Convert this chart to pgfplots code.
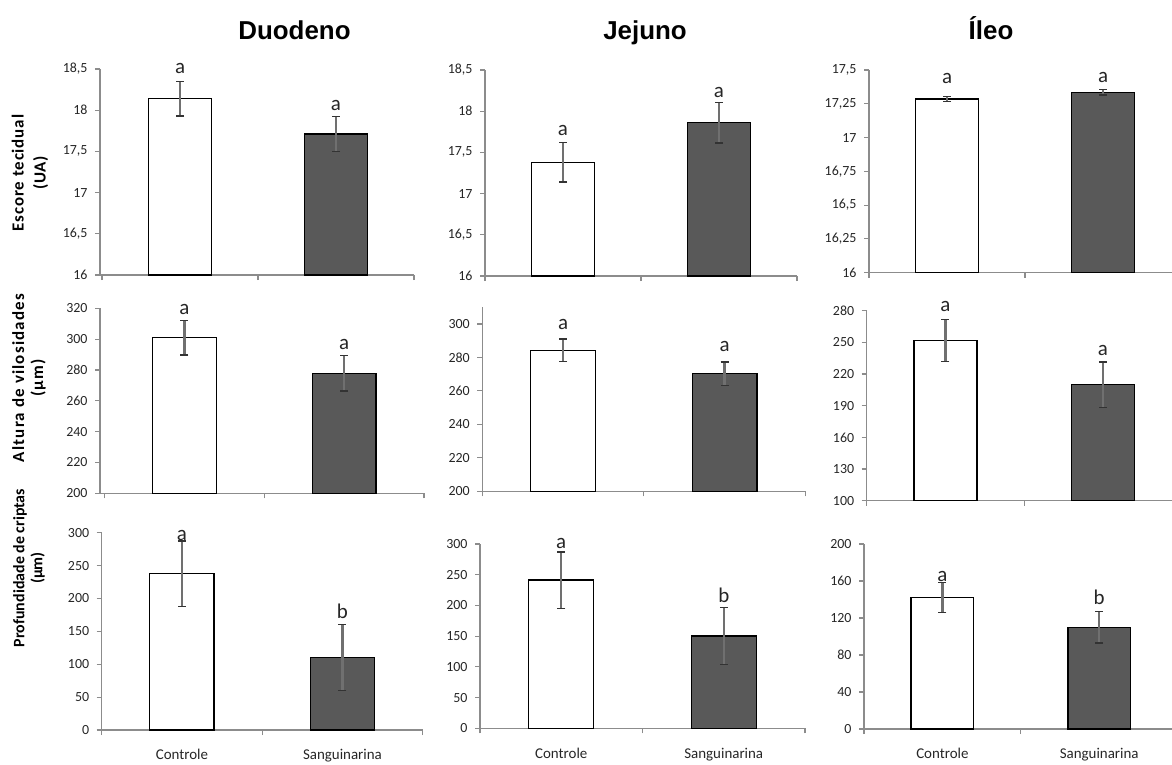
\documentclass[border=0pt]{standalone}
\usepackage{fontspec}
\setmainfont{Carlito}
\newfontfamily\arialfont{Liberation Sans}
\usepackage{pgfplots}
\pgfplotsset{compat=1.18}
\definecolor{axisgray}{HTML}{8C8C8C}
\definecolor{errgray}{HTML}{707070}
\definecolor{capgray}{HTML}{333333}
\definecolor{darkbar}{HTML}{595959}
\definecolor{txt}{HTML}{262626}
\tikzset{lab/.style={anchor=base, font=\fontsize{21}{24}\selectfont, text=txt, inner sep=0pt}}
\pgfplotsset{
  panel/.style={
    scale only axis, clip=false, anchor=south west,
    axis x line*=bottom, axis y line*=left,
    axis line style={draw=axisgray, line width=1.1pt, -},
    xtick={-0.5,0.5,1.5}, xticklabels={,,},
    tick align=outside, major tick length=5bp,
    tick style={draw=axisgray, line width=1.1pt},
    ybar, bar width=0.4, bar shift=0pt,
    yticklabel style={font=\fontsize{14}{16}\selectfont, text=txt, xshift=-4bp},
    /pgf/number format/use comma,
    /pgf/number format/1000 sep={},
    /pgf/number format/assume math mode=true,
  },
  cats/.style={
    extra x ticks={0,1}, extra x tick labels={Controle,Sanguinarina},
    extra x tick style={major tick length=0pt,
      xticklabel style={font=\fontsize{15}{17}\selectfont, text=txt, yshift=-16bp}},
  },
  ebar/.style={
    error bars/.cd, y dir=both, y explicit,
    error bar style={draw=errgray, line width=2.4pt},
    error mark=|,
    error mark options={draw=capgray, line width=1.4pt, mark size=4bp}},
  ctrl/.style={fill=white, draw=black, line width=1.3pt, ebar},
  sang/.style={fill=darkbar, draw=black, line width=1.3pt, ebar},
}
\begin{document}
\begin{tikzpicture}
\useasboundingbox (0,0) rectangle (1172bp,-765bp);
% titles
\node[font=\arialfont\bfseries\fontsize{26}{30}\selectfont, anchor=base] at (294.5bp,-39bp) {Duodeno};
\node[font=\arialfont\bfseries\fontsize{26}{30}\selectfont, anchor=base] at (645bp,-39bp) {Jejuno};
\node[font=\arialfont\bfseries\fontsize{26}{30}\selectfont, anchor=base] at (991bp,-39bp) {Íleo};
% y labels
\node[rotate=90, align=center, font=\bfseries\fontsize{17}{22}\selectfont\addfontfeature{LetterSpace=5}] at (30bp,-173bp) {Escore tecidual\\(UA)};
\node[rotate=90, align=center, font=\bfseries\fontsize{17}{19}\selectfont\addfontfeature{LetterSpace=7}] at (29bp,-378bp) {Altura de vilosidades\\(µm)};
\node[rotate=90, align=center, font=\bfseries\fontsize{16}{18}\selectfont] at (29bp,-568bp) {Profundidade de criptas\\(µm)};

% Row 1
\begin{axis}[panel, at={(100bp,-275bp)}, width=314bp, height=206bp,
  xmin=-0.513, xmax=1.5, ymin=16, ymax=18.5, ytick={16,16.5,17,17.5,18,18.5}]
\addplot[ctrl] coordinates {(0,18.14) +- (0,0.21)};
\addplot[sang] coordinates {(1,17.71) +- (0,0.21)};
\node[lab] at (axis cs:0,18.45) {a};
\node[lab] at (axis cs:1,18.00) {a};
\end{axis}
\begin{axis}[panel, at={(485bp,-276bp)}, width=312bp, height=206bp,
  xmin=-0.5, xmax=1.5, ymin=16, ymax=18.5, ytick={16,16.5,17,17.5,18,18.5}]
\addplot[ctrl] coordinates {(0,17.38) +- (0,0.24)};
\addplot[sang] coordinates {(1,17.86) +- (0,0.245)};
\node[lab] at (axis cs:0,17.70) {a};
\node[lab] at (axis cs:1,18.17) {a};
\end{axis}
\begin{axis}[panel, at={(869bp,-272.7bp)}, width=303bp, height=202.7bp,
  xmin=-0.5, xmax=1.442, ymin=16, ymax=17.5, ytick={16,16.25,16.5,16.75,17,17.25,17.5}]
\addplot[ctrl] coordinates {(0,17.285) +- (0,0.02)};
\addplot[sang] coordinates {(1,17.335) +- (0,0.02)};
\node[lab] at (axis cs:0,17.40) {a};
\node[lab] at (axis cs:1,17.41) {a};
\end{axis}

% Row 2
\begin{axis}[panel, at={(100bp,-493.3bp)}, width=324bp, height=185bp,
  xmin=-0.529, xmax=1.5, ymin=200, ymax=320, ytick={200,220,...,320}]
\addplot[ctrl] coordinates {(0,300.9) +- (0,11.2)};
\addplot[sang] coordinates {(1,277.8) +- (0,11.5)};
\node[lab] at (axis cs:0,315.7) {a};
\node[lab] at (axis cs:1,293.0) {a};
\end{axis}
\begin{axis}[panel, at={(482.3bp,-491.3bp)}, width=323bp, height=184bp,
  xmin=-0.5, xmax=1.5, ymin=200, ymax=310, ytick={200,220,...,300}]
\addplot[ctrl] coordinates {(0,284.3) +- (0,6.8)};
\addplot[sang] coordinates {(1,270.4) +- (0,7)};
\node[lab] at (axis cs:0,296.7) {a};
\node[lab] at (axis cs:1,283.3) {a};
\end{axis}
\begin{axis}[panel, at={(866.7bp,-500.7bp)}, width=305.3bp, height=190bp,
  xmin=-0.5, xmax=1.44, ymin=100, ymax=280, ytick={100,130,...,280}]
\addplot[ctrl] coordinates {(0,251.6) +- (0,20)};
\addplot[sang] coordinates {(1,209.9) +- (0,21.5)};
\node[lab] at (axis cs:0,279.1) {a};
\node[lab] at (axis cs:1,238.0) {a};
\end{axis}

% Row 3
\begin{axis}[panel, cats, at={(101.7bp,-730bp)}, width=321bp, height=197.3bp,
  xmin=-0.5, xmax=1.5, ymin=0, ymax=300, ytick={0,50,...,300}]
\addplot[ctrl] coordinates {(0,237.6) +- (0,50)};
\addplot[sang] coordinates {(1,110.4) +- (0,50)};
\node[lab] at (axis cs:0,288.9) {a};
\node[lab] at (axis cs:1,168.8) {b};
\end{axis}
\begin{axis}[panel, cats, at={(480bp,-728.3bp)}, width=325bp, height=184.3bp,
  xmin=-0.5, xmax=1.5, ymin=0, ymax=300, ytick={0,50,...,300}]
\addplot[ctrl] coordinates {(0,241.3) +- (0,46)};
\addplot[sang] coordinates {(1,150.2) +- (0,46)};
\node[lab] at (axis cs:0,293) {a};
\node[lab] at (axis cs:1,204) {b};
\end{axis}
\begin{axis}[panel, cats, at={(864bp,-729bp)}, width=308bp, height=185bp,
  xmin=-0.5, xmax=1.464, ymin=0, ymax=200, ytick={0,40,...,200}]
\addplot[ctrl] coordinates {(0,142.3) +- (0,16.2)};
\addplot[sang] coordinates {(1,109.9) +- (0,17)};
\node[lab] at (axis cs:0,159.2) {a};
\node[lab] at (axis cs:1,135.1) {b};
\end{axis}
\end{tikzpicture}
\end{document}
